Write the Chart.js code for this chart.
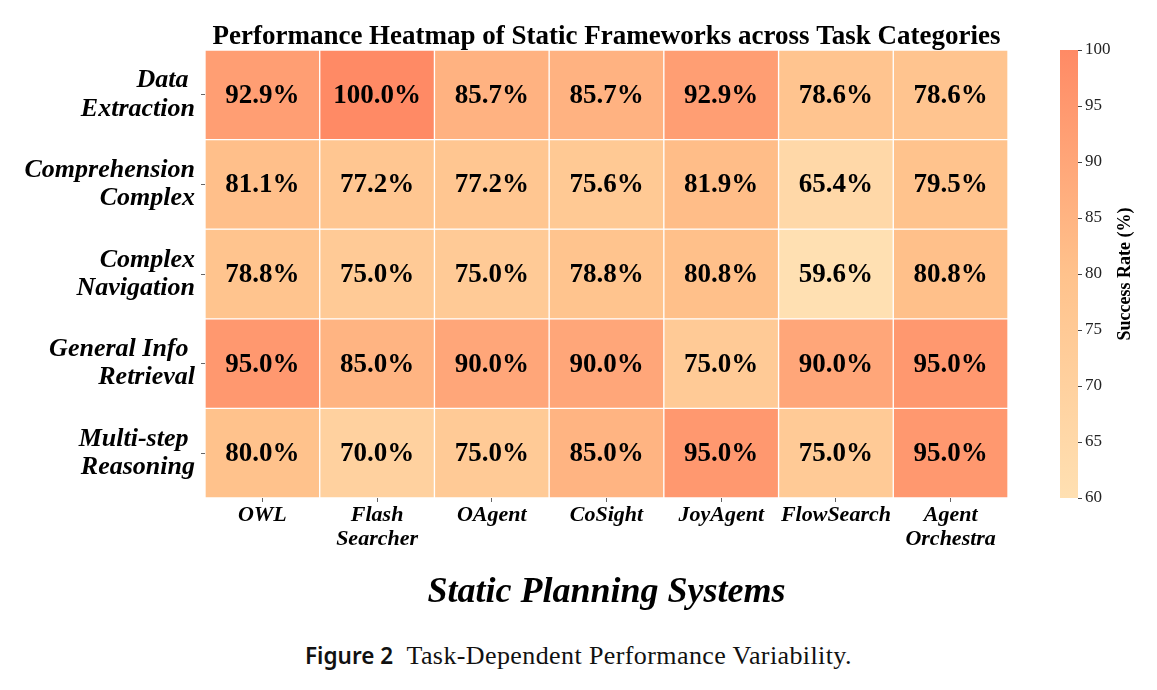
<!DOCTYPE html>
<html>
<head>
<meta charset="utf-8">
<script src="https://cdn.jsdelivr.net/npm/chart.js@4.4.1/dist/chart.umd.min.js"></script>
<style>
  body { margin: 0; background: #fff; width: 1157px; height: 690px; position: relative; overflow: hidden; }
  #heat { position: absolute; left: 0; top: 0; }
  #bar { position: absolute; left: 1030px; top: 0; }
  #caption { position: absolute; left: 0; width: 1157px; top: 640px; text-align: center; white-space: pre;
    font-family: "Liberation Serif", serif; font-size: 26px; letter-spacing: 0.4px; color: #111; }
  #caption b { font-family: "Noto Sans", sans-serif; font-weight: 600; font-size: 22.5px; letter-spacing: 0; }
</style>
</head>
<body>
<canvas id="heat" width="1157" height="620"></canvas>
<canvas id="bar" width="127" height="620"></canvas>
<div id="caption"><b>Figure 2</b>  Task-Dependent Performance Variability.</div>
<script>
const systems = ["OWL", ["Flash", "Searcher"], "OAgent", "CoSight", "JoyAgent", "FlowSearch", ["Agent", "Orchestra"]];
const tasks = [["Data ", "Extraction"], ["Comprehension", "Complex"], ["Complex", "Navigation"], ["General Info ", "Retrieval"], ["Multi-step ", "Reasoning"]];

const dataExtraction = [92.9, 100.0, 85.7, 85.7, 92.9, 78.6, 78.6];
const comprehensionComplex = [81.1, 77.2, 77.2, 75.6, 81.9, 65.4, 79.5];
const complexNavigation = [78.8, 75.0, 75.0, 78.8, 80.8, 59.6, 80.8];
const generalInfoRetrieval = [95.0, 85.0, 90.0, 90.0, 75.0, 90.0, 95.0];
const multiStepReasoning = [80.0, 70.0, 75.0, 85.0, 95.0, 75.0, 95.0];
const rows = [dataExtraction, comprehensionComplex, complexNavigation, generalInfoRetrieval, multiStepReasoning];

const barTicks = [60, 65, 70, 75, 80, 85, 90, 95, 100];
const vmin = 60, vmax = 100;

// colour map stops (value, rgb)
const stops = [[60, [255, 224, 178]], [80, [255, 194, 140]], [100, [255, 138, 101]]];

const colorAt = (v) => {
  v = Math.max(vmin, Math.min(vmax, v));
  for (let i = 0; i < stops.length - 1; i++) {
    const [a, ca] = stops[i], [b, cb] = stops[i + 1];
    if (v <= b) {
      const t = (v - a) / (b - a);
      const c = ca.map((x, k) => Math.round(x + (cb[k] - x) * t));
      return `rgb(${c[0]}, ${c[1]}, ${c[2]})`;
    }
  }
  return "rgb(255,138,101)";
};

const serif = "'Liberation Serif', 'Times New Roman', serif";

const cellText = {
  id: "cellText",
  afterDatasetsDraw(chart) {
    const ctx = chart.ctx;
    const area = chart.chartArea;
    ctx.save();
    ctx.font = `bold 27px ${serif}`;
    ctx.fillStyle = "#000";
    ctx.textAlign = "center";
    ctx.textBaseline = "middle";
    chart.data.datasets.forEach((ds, di) => {
      chart.getDatasetMeta(di).data.forEach((el, i) => {
        ctx.fillText(ds.values[i].toFixed(1) + "%", el.x, (el.y + el.base) / 2 + 1);
      });
    });
    // title centred over the heatmap
    ctx.font = `bold 27px ${serif}`;
    ctx.fillText("Performance Heatmap of Static Frameworks across Task Categories", (area.left + area.right) / 2, 37);
    ctx.restore();
  }
};

new Chart(document.getElementById("heat"), {
  type: "bar",
  data: {
    labels: systems,
    datasets: rows.map((vals) => ({
      data: vals.map(() => 1),
      values: vals,
      backgroundColor: vals.map(colorAt),
      borderColor: "#fff",
      borderWidth: 1,
      borderSkipped: false,
      barPercentage: 1,
      categoryPercentage: 1
    }))
  },
  options: {
    responsive: false,
    animation: false,
    layout: { padding: { left: 0, right: 149, top: 50, bottom: 0 } },
    plugins: {
      legend: { display: false },
      tooltip: { enabled: false },
      title: { display: false }
    },
    scales: {
      x: {
        stacked: true,
        grid: { offset: false, drawOnChartArea: false, drawTicks: true, tickLength: 4, color: "#666" },
        border: { display: false },
        ticks: {
          color: "#000",
          padding: 1,
          maxRotation: 0,
          font: { family: serif, size: 22, weight: "bold", style: "italic", lineHeight: 1.1 }
        },
        title: {
          display: true,
          text: "Static Planning Systems",
          color: "#000",
          font: { family: serif, size: 36, weight: "bold", style: "italic", lineHeight: 1.2 },
          padding: { top: 0, bottom: 6 }
        },
        afterFit: (scale) => { scale.height = 122; }
      },
      y: {
        stacked: true,
        reverse: true,
        min: 0,
        max: 5,
        grid: { drawOnChartArea: false, drawTicks: true, tickLength: 4, color: "#666" },
        border: { display: false },
        afterBuildTicks: (scale) => {
          scale.ticks = tasks.map((t, i) => ({ value: i + 0.5 }));
        },
        ticks: {
          color: "#000",
          padding: 6,
          font: { family: serif, size: 26, weight: "bold", style: "italic", lineHeight: 1.08 },
          callback: (v, i) => tasks[i]
        },
        afterFit: (scale) => { scale.width = 205; }
      }
    }
  },
  plugins: [cellText]
});

const barTitle = {
  id: "barTitle",
  afterDraw(chart) {
    const ctx = chart.ctx;
    const area = chart.chartArea;
    ctx.save();
    ctx.translate(95, (area.top + area.bottom) / 2);
    ctx.rotate(-Math.PI / 2);
    ctx.font = `bold 18px ${serif}`;
    ctx.fillStyle = "#000";
    ctx.textAlign = "center";
    ctx.textBaseline = "middle";
    ctx.fillText("Success Rate (%)", 0, 0);
    ctx.restore();
  }
};

new Chart(document.getElementById("bar"), {
  type: "bar",
  data: {
    labels: [""],
    datasets: [{
      data: [[vmin, vmax]],
      barPercentage: 1,
      categoryPercentage: 1,
      backgroundColor: (c) => {
        const chart = c.chart;
        if (!chart.chartArea) return colorAt(80);
        const y = chart.scales.y;
        const g = chart.ctx.createLinearGradient(0, y.getPixelForValue(vmin), 0, y.getPixelForValue(vmax));
        stops.forEach(([v]) => g.addColorStop((v - vmin) / (vmax - vmin), colorAt(v)));
        return g;
      }
    }]
  },
  options: {
    responsive: false,
    animation: false,
    layout: { padding: { left: 30, right: 0, top: 50, bottom: 122 } },
    plugins: { legend: { display: false }, tooltip: { enabled: false } },
    scales: {
      x: { display: false },
      y: {
        position: "right",
        min: vmin,
        max: vmax,
        grid: { drawOnChartArea: false, drawTicks: true, tickLength: 4, color: "#444" },
        border: { display: false },
        afterBuildTicks: (scale) => { scale.ticks = barTicks.map((v) => ({ value: v })); },
        ticks: { color: "#222", padding: 3, font: { family: serif, size: 17 } },
        afterFit: (scale) => { scale.width = 79; }
      }
    }
  },
  plugins: [barTitle]
});
</script>
</body>
</html>
